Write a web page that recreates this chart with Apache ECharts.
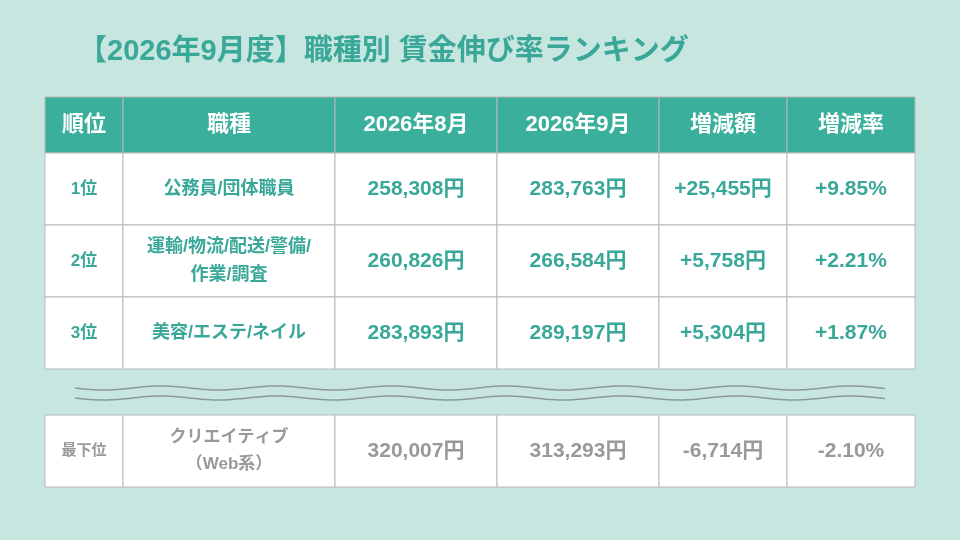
<!DOCTYPE html>
<html><head><meta charset="utf-8">
<script src="https://cdn.jsdelivr.net/npm/echarts@6/dist/echarts.min.js"></script>
<style>html,body{margin:0;padding:0;background:#c8e6e0}#c{width:960px;height:540px}</style>
</head><body><div id="c"></div>
<script>
const title = '【2026年9月度】職種別 賃金伸び率ランキング';
const headers = ['順位','職種','2026年8月','2026年9月','増減額','増減率'];
const ranks = ['1位','2位','3位'];
const jobs = ['公務員/団体職員','運輸/物流/配送/警備/\n作業/調査','美容/エステ/ネイル'];
const aug = ['258,308円','260,826円','283,893円'];
const sep = ['283,763円','266,584円','289,197円'];
const diff = ['+25,455円','+5,758円','+5,304円'];
const rate = ['+9.85%','+2.21%','+1.87%'];
const lastRow = ['最下位','クリエイティブ\n（Web系）','320,007円','313,293円','-6,714円','-2.10%'];

const colX = [45,123,335,497,659,787,915];
const teal = '#3aaf9c', tealText = '#3aa898', border = '#b8b8b8', gray = '#999999';
const FONT = '"Liberation Sans", "Noto Sans CJK JP", sans-serif';
const els = [];
function cell(x0,x1,y0,y1,fill,txt,color,size){
  els.push({type:'rect',shape:{x:x0,y:y0,width:x1-x0,height:y1-y0},style:{fill:fill,stroke:border,lineWidth:1}});
  els.push({type:'text',x:(x0+x1)/2,y:(y0+y1)/2,style:{text:txt,fill:color,font:'bold '+size+'px '+FONT,align:'center',verticalAlign:'middle',lineHeight:size+10}});
}
els.push({type:'text',x:78,y:52,style:{text:title,fill:tealText,font:'bold 29px '+FONT,verticalAlign:'middle'}});
headers.forEach((h,i)=>cell(colX[i],colX[i+1],97,153,teal,h,'#ffffff',22));
const rowY=[153,225,297,369];
for(let r=0;r<3;r++){
  const vals=[ranks[r],jobs[r],aug[r],sep[r],diff[r],rate[r]];
  vals.forEach((v,i)=>cell(colX[i],colX[i+1],rowY[r],rowY[r+1],'#ffffff',v,tealText,i===0?17:(i===1?18:21)));
}
lastRow.forEach((v,i)=>cell(colX[i],colX[i+1],415,487,'#ffffff',v,gray,i===0?15:(i===1?17:21)));
[388,398].forEach(yc=>{
  const pts=[];
  for(let x=75;x<=885;x+=3) pts.push([x,yc+2*Math.sin((x-75)/115*2*Math.PI)]);
  els.push({type:'polyline',shape:{points:pts},style:{stroke:'#8a9a98',lineWidth:1.5,fill:null}});
});
const chart=echarts.init(document.getElementById('c'));
chart.setOption({backgroundColor:'#c8e6e0',graphic:{elements:els}});
</script></body></html>
